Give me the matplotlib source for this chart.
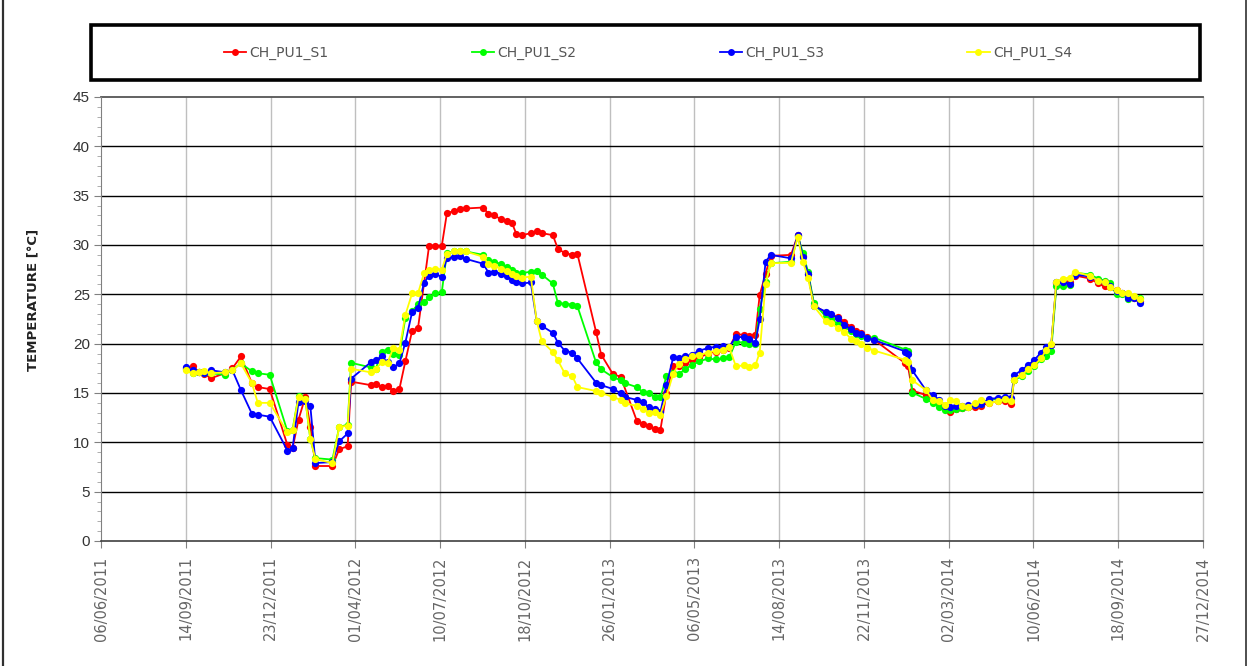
import numpy as np
import matplotlib
matplotlib.use('Agg')
import matplotlib.pyplot as plt
import matplotlib.dates as mdates
from matplotlib.patches import Rectangle
from matplotlib.lines import Line2D
import datetime as dt

nan = np.nan

dates = [
'2011-09-14','2011-09-22','2011-09-30','2011-10-06','2011-10-14','2011-10-30','2011-11-08','2011-11-18','2011-12-01','2011-12-08','2011-12-22',
'2012-01-12','2012-01-18','2012-01-25','2012-02-02','2012-02-08','2012-02-14','2012-03-05','2012-03-13','2012-03-23','2012-03-27',
'2012-04-19','2012-04-25','2012-05-02','2012-05-09','2012-05-16','2012-05-23','2012-05-30','2012-06-07','2012-06-14','2012-06-21','2012-06-27',
'2012-07-04','2012-07-12','2012-07-18','2012-07-26','2012-08-02','2012-08-09','2012-08-30','2012-09-05','2012-09-12','2012-09-20','2012-09-27',
'2012-10-03','2012-10-08','2012-10-15','2012-10-25','2012-11-01','2012-11-07','2012-11-20','2012-11-26','2012-12-04','2012-12-13','2012-12-19',
'2013-01-10','2013-01-16','2013-01-30','2013-02-08','2013-02-13','2013-02-27','2013-03-06','2013-03-13','2013-03-20','2013-03-27',
'2013-04-03','2013-04-11','2013-04-18','2013-04-25','2013-05-03','2013-05-12','2013-05-22','2013-05-31','2013-06-09','2013-06-16',
'2013-06-24','2013-07-03','2013-07-10','2013-07-17','2013-07-22','2013-07-29','2013-08-04','2013-08-28','2013-09-05','2013-09-11',
'2013-09-17','2013-09-24','2013-10-08','2013-10-14','2013-10-22','2013-10-30','2013-11-07','2013-11-13','2013-11-19','2013-11-26',
'2013-12-04','2014-01-10','2014-01-13','2014-01-18','2014-02-03','2014-02-11','2014-02-19','2014-02-26','2014-03-04','2014-03-11',
'2014-03-18','2014-03-25','2014-04-02','2014-04-09','2014-04-19','2014-04-29','2014-05-07','2014-05-15','2014-05-18','2014-05-27',
'2014-06-04','2014-06-11','2014-06-19','2014-06-25','2014-07-01','2014-07-07','2014-07-15','2014-07-23','2014-07-29','2014-08-16',
'2014-08-25','2014-09-02','2014-09-08','2014-09-16','2014-09-23','2014-09-30','2014-10-07','2014-10-14']

ch_pu1_s1 = [
17.5, 17.7, 17.1, 16.9, 16.5, 17.0, 17.5, 18.7, 16.0, 15.6, 15.4,
9.7, 9.4, 12.3, 14.6, 11.6, 7.6, 7.6, 9.3, 9.6, 16.15,
15.8, 15.9, 15.6, 15.7, 15.2, 15.4, 18.2, 21.3, 21.6, nan, 29.9,
29.85, 29.9, 33.2, 33.45, 33.6, 33.7, 33.8, 33.15, 33.0, 32.6, 32.4,
32.2, 31.1, 31.0, 31.2, 31.4, 31.2, 31.0, 29.6, 29.2, 29.0, 29.1,
21.2, 18.9, 16.9, 16.65, nan, 12.2, 11.9, 11.65, 11.4, 11.3,
15.0, 17.7, 17.7, 18.0, 18.3, 18.6, 19.0, 19.2, 19.4, 19.55,
20.96, 20.9, 20.8, 20.9, 24.9, 27.1, 28.9, 29.0, 31.0, 28.9,
27.1, 23.9, 23.15, 22.9, 22.75, 22.2, 21.7, 21.3, 21.05, 20.7,
20.4, 18.0, 17.7, 15.25, 14.8, 14.4, 14.0, nan, 13.1, 13.35,
13.5, 13.6, 13.6, 13.7, 14.0, 14.15, 14.15, 13.9, 16.35, 16.9,
17.5, 18.0, 18.6, 19.2, 19.9, 26.1, 26.5, 26.2, 26.9, 26.6,
26.1, 25.8, 25.7, 25.4, 25.1, 24.9, 24.66, 24.3]

ch_pu1_s2 = [
17.4, 17.0, 17.1, 17.0, 17.0, 16.85, 17.35, 18.0, 17.2, 17.0, 16.85,
11.1, 11.3, 14.7, 14.4, 10.3, 8.4, 8.25, 11.55, 11.8, 18.06,
17.6, 17.4, 19.2, 19.4, 19.0, 18.9, 22.6, 23.3, 24.0, 24.2, 24.7,
25.1, 25.2, 29.2, 29.35, 29.4, 29.35, 29.0, 28.5, 28.3, 28.06, 27.75,
27.5, 27.15, 27.15, 27.3, 27.4, 27.0, 26.1, 24.1, 24.06, 23.96, 23.8,
18.1, 17.4, 16.6, 16.3, 16.0, 15.6, 15.1, 15.0, 14.6, 14.55,
16.7, 17.0, 16.95, 17.4, 17.85, 18.2, 18.5, 18.4, 18.5, 18.6,
20.2, 20.1, 20.0, 20.0, 23.5, 26.2, 28.15, 28.3, 30.9, 29.2,
27.3, 24.1, 22.75, 22.5, 22.0, 21.7, 21.3, 21.0, 20.8, 20.6,
20.6, 19.4, 19.3, 15.05, 14.4, 14.0, 13.6, 13.3, 13.3, 13.4,
13.5, 13.6, 13.8, 13.9, 14.3, 14.4, 14.4, 14.4, 16.3, 16.7,
17.2, 17.75, 18.4, 18.75, 19.3, 25.8, 25.8, 25.95, 27.2, 27.0,
26.6, 26.4, 26.1, 25.0, 25.0, 24.5, 24.7, 24.6]

ch_pu1_s3 = [
17.6, 17.3, 17.1, 17.0, 17.3, 17.1, 17.3, 15.3, 12.9, 12.8, 12.6,
9.15, 9.4, 14.1, 14.15, 13.65, 7.9, 8.0, 10.1, 10.9, 16.45,
18.1, 18.3, 18.7, 18.1, 17.6, 18.0, 20.1, 23.2, 23.6, 26.15, 26.9,
27.1, 26.75, 28.7, 28.8, 28.85, 28.6, 28.1, 27.2, 27.3, 27.1, 26.9,
26.5, 26.2, 26.1, 26.2, 22.3, 21.8, 21.1, 20.1, 19.3, 19.1, 18.5,
16.05, 15.8, 15.4, 15.0, 14.6, 14.3, 14.05, 13.6, 13.4, 13.1,
15.8, 18.6, 18.5, 18.7, 18.9, 19.3, 19.55, 19.7, 19.8, 19.65,
20.7, 20.65, 20.45, 20.1, 22.5, 28.3, 29.0, 28.65, 31.0, 28.8,
27.1, 23.8, 23.25, 23.0, 22.6, 21.9, 21.45, 21.1, 20.95, 20.6,
20.37, 19.2, 19.0, 17.3, 15.3, 14.8, 14.3, 13.7, 13.55, 13.7,
13.7, 13.75, 13.8, 13.9, 14.4, 14.5, 14.6, 14.5, 16.8, 17.3,
17.85, 18.35, 19.1, 19.7, 19.87, 26.2, 26.2, 26.0, 27.0, 26.8,
26.4, 26.2, 25.8, 25.3, 25.1, 24.66, 24.6, 24.1]

ch_pu1_s4 = [
17.3, 17.0, 17.1, 17.2, 17.0, 17.1, 17.3, 18.0, 16.0, 14.0, 14.0,
11.0, 11.2, 14.6, 14.4, 10.3, 8.3, 7.9, 11.55, 11.7, 17.45,
17.1, 17.4, 18.1, 18.06, 19.6, 19.4, 22.9, 25.1, 25.1, 27.15, 27.5,
27.6, 27.5, 29.1, 29.35, 29.4, 29.35, 28.8, 28.06, 27.9, 27.6, 27.4,
27.1, 26.85, 26.7, 26.8, 22.3, 20.25, 19.15, 18.3, 17.0, 16.7, 15.6,
15.2, 15.0, 14.6, 14.3, 13.95, 13.7, 13.35, 13.0, 13.1, 12.8,
14.65, 16.95, 17.96, 18.4, 18.7, 18.87, 19.1, 19.3, 19.4, 19.65,
17.7, 17.8, 17.6, 17.8, 19.1, 26.05, 28.15, 28.2, 30.85, 28.3,
26.7, 23.8, 22.25, 22.1, 21.6, 21.15, 20.5, 20.3, 20.0, 19.6,
19.3, 18.35, 18.1, 16.3, 15.3, 14.3, 14.15, 13.8, 14.25, 14.15,
13.7, 13.6, 14.0, 14.25, 14.0, 14.15, 14.4, 14.15, 16.35, 16.85,
17.4, 17.85, 18.5, 19.36, 19.93, 26.3, 26.6, 26.7, 27.3, 26.85,
26.4, 26.2, 25.7, 25.4, 25.1, 25.1, 24.8, 24.5]

series_names = ['CH_PU1_S1', 'CH_PU1_S2', 'CH_PU1_S3', 'CH_PU1_S4']
series_colors = ['#FF0000', '#00FF00', '#0000FF', '#FFFF00']
axis_start = '2011-06-06'
axis_end = '2014-12-27'
tick_step_days = 100
y_label = 'TEMPERATURE [°C]'

W, H = 1250, 666
fig = plt.figure(figsize=(W / 100, H / 100), dpi=100)
ax = fig.add_axes([101 / W, 1 - 541 / H, (1203 - 101) / W, (541 - 97) / H])

x = np.array([mdates.date2num(dt.datetime.strptime(d, '%Y-%m-%d')) for d in dates])
all_series = [ch_pu1_s1, ch_pu1_s2, ch_pu1_s3, ch_pu1_s4]
for name, col, vals in zip(series_names, series_colors, all_series):
    v = np.array(vals, dtype=float)
    m = ~np.isnan(v)
    ax.plot(x[m], v[m], color=col, lw=1.3, marker='o', ms=5.2,
            markeredgewidth=0, label=name, zorder=3)

x0 = mdates.date2num(dt.datetime.strptime(axis_start, '%Y-%m-%d'))
x1 = mdates.date2num(dt.datetime.strptime(axis_end, '%Y-%m-%d'))
ax.set_xlim(x0, x1)
ax.set_ylim(0, 45)
ticks = np.arange(x0, x1 + 1, tick_step_days)
ax.set_xticks(ticks)
ax.xaxis.set_major_formatter(mdates.DateFormatter('%d/%m/%Y'))
ax.set_yticks(np.arange(0, 46, 5))
ax.set_yticks(np.arange(0, 46, 1), minor=True)

for t in ticks[1:]:
    ax.axvline(t, color='#BFBFBF', lw=1.0, zorder=1, clip_on=False)
for yv in range(5, 45, 5):
    ax.axhline(yv, color='#000000', lw=1.0, zorder=1)
ax.axhline(45, color='#555555', lw=1.3, zorder=1, clip_on=False)

for s in ['top', 'right']:
    ax.spines[s].set_visible(False)
ax.spines['left'].set_color('#808080')
ax.spines['bottom'].set_color('#404040')
ax.spines['bottom'].set_linewidth(1.2)

ax.tick_params(axis='y', which='major', length=5, color='#808080', labelsize=11,
               labelcolor='#333333', pad=3)
ax.tick_params(axis='y', which='minor', length=3, color='#A0A0A0')
ax.tick_params(axis='x', which='major', length=5, color='#808080', labelsize=10.5,
               labelcolor='#666666', pad=6, labelrotation=90)
for lbl in ax.get_yticklabels():
    lbl.set_fontfamily('Liberation Sans')

fig.text(33 / W, 1 - 300 / H, y_label, rotation=90, ha='center', va='center',
         fontsize=9.5, fontweight='bold', color='#222222')

# legend box
fig.patches.append(Rectangle((91 / W, 1 - 80 / H), (1200 - 91) / W, (80 - 25) / H,
                             transform=fig.transFigure, fill=False,
                             edgecolor='black', lw=2.6))
handles = [Line2D([], [], color=c, lw=1.3, marker='o', ms=5, markeredgewidth=0)
           for c in series_colors]
leg = fig.legend(handles, series_names, loc='center', bbox_to_anchor=(648 / W, 1 - 53 / H),
                 ncol=4, frameon=False, fontsize=10, handlelength=1.6,
                 handletextpad=0.25, columnspacing=10.3)
for t in leg.get_texts():
    t.set_color('#555555')

# side borders of the figure
fig.add_artist(Line2D([2.5 / W, 2.5 / W], [0, 1], transform=fig.transFigure, color='#303030', lw=1.6))
fig.add_artist(Line2D([1245.5 / W, 1245.5 / W], [0, 1], transform=fig.transFigure, color='#303030', lw=1.2))

fig.savefig('out.png', dpi=100)
